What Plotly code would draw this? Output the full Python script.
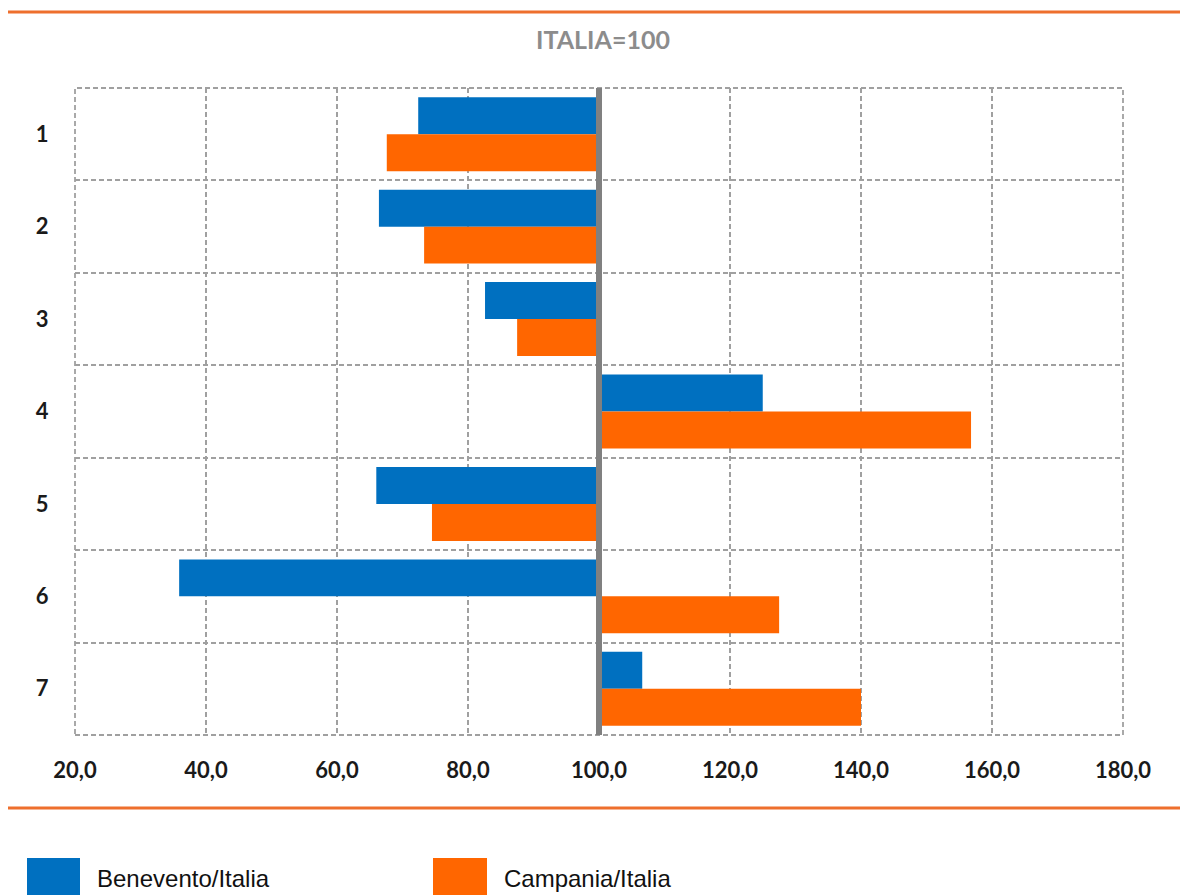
import plotly.graph_objects as go

categories = [1, 2, 3, 4, 5, 6, 7]
benevento = [72.4, 66.4, 82.6, 125.0, 66.0, 35.9, 106.6]
campania = [67.6, 73.3, 87.5, 156.8, 74.5, 127.5, 140.0]
x_ticks = [20, 40, 60, 80, 100, 120, 140, 160, 180]
series_names = ["Benevento/Italia", "Campania/Italia"]
colors = ["#0070C0", "#FF6600"]
BASE = 100

# page offset (body margin) -> figure drawn at (8, 8)
OFF = 8
W, H = 1188 - OFF, 895 - OFF
# plot area in screen pixels
L, R, T, B = 75, 1123, 88, 735

def px_x(p):
    return (p - L) / (R - L)

def px_y(p):
    return (B - p) / (B - T)

fig = go.Figure()
for name, vals, col in zip(series_names, [benevento, campania], colors):
    fig.add_trace(go.Bar(
        y=categories, x=[v - BASE for v in vals], base=[BASE] * len(vals),
        orientation="h", name=name, marker=dict(color=col, line=dict(width=0)),
        showlegend=False,
    ))

grid_col = "#A0A0A0"
grid_w = 1.8
tick_font = dict(family="Lato, Open Sans, sans-serif", size=22, color="#1A1A1A", weight="bold")
fig.update_layout(
    width=W, height=H,
    margin=dict(l=L - OFF, r=W - (R - OFF), t=T - OFF, b=H - (B - OFF)),
    paper_bgcolor="white", plot_bgcolor="white",
    barmode="group", bargap=0.2, bargroupgap=0,
    separators=",.",
    title=dict(text="<b>ITALIA=100</b>", x=px_x(603), xref="paper", xanchor="center",
               y=1 - (40 - OFF) / H, yanchor="middle",
               font=dict(family="Lato, Open Sans, sans-serif", size=25, color="#8C8C8C")),
    xaxis=dict(range=[20, 180], tickvals=x_ticks, tickformat=".1f",
               showgrid=True, gridcolor=grid_col, griddash="5px,3px", gridwidth=grid_w,
               zeroline=False, showline=False,
               ticks="outside", ticklen=16, tickcolor="rgba(0,0,0,0)",
               tickfont=tick_font),
    yaxis=dict(range=[7.5, 0.5], tickvals=categories, showgrid=False, zeroline=False,
               showline=False,
               ticks="outside", ticklen=21, tickcolor="rgba(0,0,0,0)",
               tickfont=tick_font,
               minor=dict(tick0=0.5, dtick=1, showgrid=True, gridcolor=grid_col,
                          griddash="5px,3px", gridwidth=grid_w, ticks="")),
)

shapes = []
# dashed plot border
shapes.append(dict(type="rect", xref="paper", yref="paper", x0=0, x1=1, y0=0, y1=1,
                   line=dict(color=grid_col, width=grid_w, dash="5px,3px"), layer="below"))
# reference line at 100
shapes.append(dict(type="line", xref="x", yref="paper", x0=BASE, x1=BASE, y0=0, y1=1,
                   line=dict(color="#808080", width=6), layer="above"))
# orange rules
for py, x0p in [(12, 8), (808, 6)]:
    shapes.append(dict(type="line", xref="paper", yref="paper",
                       x0=px_x(x0p), x1=px_x(1190), y0=px_y(py), y1=px_y(py),
                       line=dict(color="#EE6F2D", width=3)))
# legend swatches
for (x0p, x1p), col in zip([(27, 80), (433, 487)], colors):
    shapes.append(dict(type="rect", xref="paper", yref="paper",
                       x0=px_x(x0p), x1=px_x(x1p), y0=px_y(896), y1=px_y(858),
                       fillcolor=col, line=dict(width=0)))
fig.update_layout(shapes=shapes)

for name, xp in zip(series_names, [95, 502]):
    fig.add_annotation(text=name, xref="paper", yref="paper", x=px_x(xp), y=px_y(878),
                       xanchor="left", yanchor="middle", showarrow=False,
                       font=dict(family="Liberation Sans, Arial, sans-serif",
                                 size=24, color="#111111"))

fig.write_html("out.html")
